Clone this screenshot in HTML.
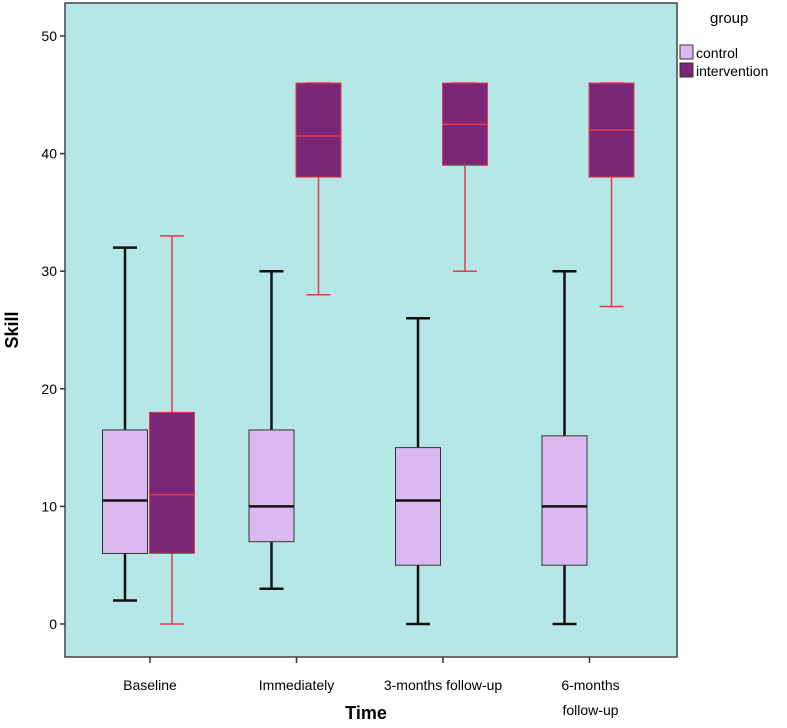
<!DOCTYPE html>
<html><head><meta charset="utf-8"><style>
body{margin:0;background:#fff}
svg text{font-family:"Liberation Sans",sans-serif}
</style></head><body>
<svg id="c" width="787" height="723" xmlns="http://www.w3.org/2000/svg">
<rect x="65" y="3" width="612" height="654" fill="#b5e7e7" stroke="#444" stroke-width="1.5"/>
<text x="18" y="330" font-size="18" font-weight="bold" transform="rotate(-90 18 330)" text-anchor="middle">Skill</text>
<text x="366" y="719" font-size="18" font-weight="bold" text-anchor="middle">Time</text>
<text x="710" y="23" font-size="15">group</text>
<rect x="680" y="45" width="13" height="14" fill="#dcb8f0" stroke="#333"/>
<text x="696" y="58" font-size="14">control</text>
<rect x="680" y="63" width="13" height="14" fill="#7b2777" stroke="#333"/>
<text x="696" y="76" font-size="14">intervention</text>
<g id="g"></g>
</svg>
<script>
const categories=["Baseline","Immediately","3-months follow-up","6-months follow-up"];
const controlMin=[2,3,0,0];
const controlQ1=[6,7,5,5];
const controlMed=[10.5,10,10.5,10];
const controlQ3=[16.5,16.5,15,16];
const controlMax=[32,30,26,30];
const intMin=[0,28,30,27];
const intQ1=[6,38,39,38];
const intMed=[11,41.5,42.5,42];
const intQ3=[18,46,46,46];
const intMax=[33,46,46,46];
const yTicks=[0,10,20,30,40,50];

const NS="http://www.w3.org/2000/svg";
const g=document.getElementById('g');
const y=v=>624-v*11.76;
const x=i=>150+i*146.5;
function mk(t,a){const e=document.createElementNS(NS,t);for(const k in a)e.setAttribute(k,a[k]);g.appendChild(e);return e;}
yTicks.forEach(v=>{
  const l=mk('line',{x1:60,x2:65,y1:y(v),y2:y(v),stroke:'#333','stroke-width':1.5});
  
  
  const t=mk('text',{x:57,y:y(v)+5,'font-size':14,'text-anchor':'end'});t.textContent=v;
  
  
});
categories.forEach((c,i)=>{
  const l=mk('line',{x1:x(i),x2:x(i),y1:657,y2:663,stroke:'#333','stroke-width':1.5});
  
  
  const parts=i==3?["6-months","follow-up"]:[c];
  parts.forEach((p,j)=>{
    const t=mk('text',{x:x(i)+(i==3?1:0),y:690+j*25,'font-size':14,'text-anchor':'middle'});t.textContent=p;
    
    
  });
});
function box(cx,mn,q1,md,q3,mx,fill,edge,wc,ww,name){
  const w=mk('line',{x1:cx,x2:cx,y1:y(mx),y2:y(q3),stroke:wc,'stroke-width':ww});
  
  
  const w2=mk('line',{x1:cx,x2:cx,y1:y(q1),y2:y(mn),stroke:wc,'stroke-width':ww});
  
  
  [mx,mn].forEach(v=>{const cp=mk('line',{x1:cx-12,x2:cx+12,y1:y(v),y2:y(v),stroke:wc,'stroke-width':ww});
    
    });
  const r=mk('rect',{x:cx-22.5,y:y(q3),width:45,height:y(q1)-y(q3),fill:fill,stroke:edge,'stroke-width':1});
  
  
  const m=mk('line',{x1:cx-22.5,x2:cx+22.5,y1:y(md),y2:y(md),stroke:wc,'stroke-width':ww});
  
  
}
categories.forEach((c,i)=>{
  box(x(i)-25,controlMin[i],controlQ1[i],controlMed[i],controlQ3[i],controlMax[i],'#dcb8f0','#333','#111',2.5,'control-'+i);
  box(x(i)+22,intMin[i],intQ1[i],intMed[i],intQ3[i],intMax[i],'#7b2777','#e83a4a','#e83a4a',1.5,'intervention-'+i);
});
</script>
</body></html>
